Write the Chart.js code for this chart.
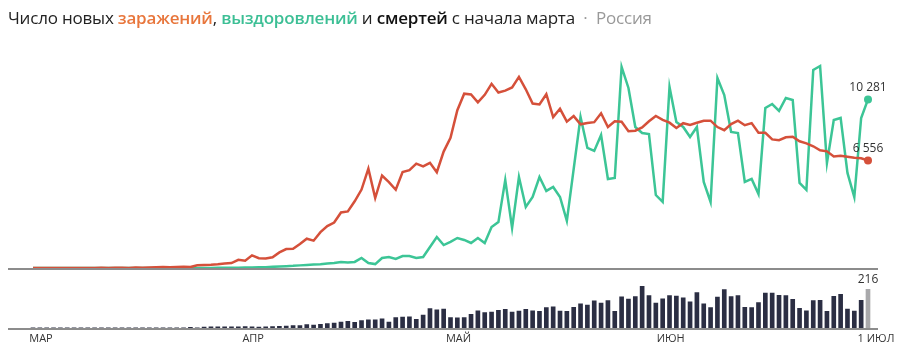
<!DOCTYPE html>
<html>
<head>
<meta charset="utf-8">
<script src="https://cdn.jsdelivr.net/npm/chart.js@4.4.1/dist/chart.umd.min.js"></script>
<style>
  body { margin: 0; background: #fff; }
  #wrap { position: relative; width: 903px; height: 358px; overflow: hidden; font-family: "Open Sans", sans-serif; }
  #title { position: absolute; left: 8px; top: 6px; font-size: 17px; color: #222; white-space: nowrap; letter-spacing: -0.2px; }
  #title .inf { color: #e8763c; font-weight: 600; }
  #title .rec { color: #3cbf95; font-weight: 600; }
  #title .dth { color: #111; font-weight: 600; }
  #title .reg { color: #999; }
  #top { position: absolute; left: 0; top: 0; }
  #bot { position: absolute; left: 0; top: 270px; }
</style>
</head>
<body>
<div id="wrap">
  <canvas id="top" width="903" height="275"></canvas>
  <canvas id="bot" width="903" height="88"></canvas>
  <div id="title">Число новых <span class="inf">заражений</span>, <span class="rec">выздоровлений</span> и <span class="dth">смертей</span> с начала марта <span class="reg">&nbsp;·&nbsp; Россия</span></div>
</div>
<script>
// 1 марта .. 1 июля 2020, по дням
var days = [];
for (var d = new Date(2020, 2, 1); d <= new Date(2020, 6, 1); d.setDate(d.getDate() + 1)) {
    days.push(d.getFullYear() + '-' + (d.getMonth() + 1) + '-' + d.getDate());
}

var tickLabels = { 0: 'МАР', 31: 'АПР', 61: 'МАЙ', 92: 'ИЮН', 122: '1 ИЮЛ' };

// новые заражения
var cases = [
    0, 1, 0, 0, 1, 6, 0, 3, 0, 3, 8, 6, 11, 14, 4, 30, 21, 33, 52, 54,
    53, 61, 71, 57, 163, 182, 196, 228, 270, 302, 500,
    440, 771, 601, 582, 658, 954, 1154, 1175, 1459, 1786,
    1667, 2186, 2558, 2774, 3388, 3448, 4070, 4785, 6060, 4268,
    5642, 5236, 4774, 5849, 5966, 6361, 6198, 6411, 5841, 7099,
    7933, 9623, 10633, 10581, 10102, 10559, 11231, 10699, 10817, 11012,
    11656, 10899, 10028, 9974, 10598, 9200, 9709, 8926, 9263, 8764,
    8849, 8894, 9434, 8599, 8946, 8915, 8338, 8371, 8572, 8952, 9268,
    9035, 8863, 8536, 8831, 8726, 8855, 8984, 8985, 8595, 8404,
    8779, 8987, 8706, 8835, 8246, 8248, 7843, 7790, 7972, 8002,
    7728, 7600, 7425, 7176, 7113, 6800, 6852, 6791, 6719, 6693,
    6556
];

// выздоровления
var recovered = [
    0, 0, 0, 0, 0, 0, 0, 0, 0, 0, 0, 0, 0, 0,
    0, 0, 1, 0, 2, 1, 0,
    3, 2, 4, 3, 5, 6, 8, 10, 12, 16,
    25, 30, 40, 50, 70, 90, 110, 130, 160, 190,
    210, 230, 280, 300, 370, 330, 370, 610, 300, 240,
    610, 670, 550, 730, 730, 610,
    670, 1280, 1890, 1400, 1590, 1830, 1710, 1525, 1830, 1525,
    2500, 2800, 5370, 2440, 5550, 3720, 4330, 5550, 4700, 4940,
    4330, 2870, 6040, 9210, 7320, 7140, 8110, 5430, 5490, 12260,
    10980, 8600, 8235, 8170, 4450, 4030, 11040, 8900, 8600, 7990,
    8600, 5250, 4030, 11590, 10550, 8300, 8235, 5250, 5430, 4510,
    9760, 10000, 9580, 10370, 10250, 5190, 4760, 12080, 12320, 6400,
    9030, 9150, 5800, 4330, 9150, 10281
];

// смерти
var deaths = [
    0, 0, 0, 0, 0, 0, 0, 0, 0, 0, 0, 0, 0, 0, 0, 0, 0, 0, 0, 0, 0, 0, 0,
    3, 0,
    4, 5, 5, 6, 5, 6, 7, 6, 4, 5, 7, 8,
    10, 12, 13, 18, 15, 20, 24, 26, 32, 36, 30,
    40, 44, 45, 50, 32, 57, 60, 62, 47, 72,
    108, 101, 105, 57,
    56, 58, 76, 95, 86, 88, 98, 104, 88, 94, 104,
    95, 93, 113, 118, 94, 92, 115, 135, 128, 151, 139, 153, 93, 173, 161, 175, 232,
    181, 139, 162, 180, 178, 168, 146, 197, 134, 113, 172, 215, 175, 181, 115, 114, 141,
    194, 194, 182, 181, 160, 109, 95, 153, 154, 93, 176, 188, 105, 94, 154, 216
];

var RED = '#d5503a';
var GREEN = '#3cc596';
var BAR = '#2b2e43';
var LAST_BAR = '#a9a9ab';
var last = days.length - 1;

function fmt(n) {
    return String(n).replace(/\B(?=(\d{3})+(?!\d))/g, ' ');
}

function endDot(ctx) {
    return ctx.dataIndex === last ? 4 : 0;
}

// серая базовая линия и подписи последних значений
var baseline = {
    id: 'baseline',
    afterDatasetsDraw: function (chart) {
        var c = chart.ctx;
        var y0 = Math.round(chart.scales.y.getPixelForValue(0)) + 1;
        c.save();
        c.strokeStyle = '#8c8c8c';
        c.lineWidth = 2;
        c.beginPath();
        c.moveTo(8, y0);
        c.lineTo(878, y0);
        c.stroke();
        c.restore();
    }
};

var lastLabels = {
    id: 'lastLabels',
    afterDatasetsDraw: function (chart) {
        var c = chart.ctx;
        c.save();
        c.font = '12px "Open Sans"';
        c.fillStyle = '#333';
        c.textAlign = 'center';
        c.textBaseline = 'bottom';
        chart.data.datasets.forEach(function (ds, i) {
            var el = chart.getDatasetMeta(i).data[last];
            c.fillText(fmt(ds.data[last]), el.x, el.y - 6);
        });
        c.restore();
    }
};

new Chart(document.getElementById('top'), {
    type: 'line',
    data: {
        labels: days,
        datasets: [{
            data: cases,
            borderColor: RED,
            backgroundColor: RED,
            borderWidth: 2.5,
            pointRadius: endDot,
            pointBorderWidth: 0,
            tension: 0
        }, {
            data: recovered,
            borderColor: GREEN,
            backgroundColor: GREEN,
            borderWidth: 2.5,
            pointRadius: endDot,
            pointBorderWidth: 0,
            tension: 0
        }]
    },
    options: {
        responsive: false,
        animation: false,
        layout: { padding: { left: 33, right: 35, top: 45, bottom: 7 } },
        plugins: { legend: { display: false }, tooltip: { enabled: false } },
        scales: {
            x: { display: false },
            y: { display: false, min: 0, max: 13600 }
        }
    },
    plugins: [baseline, lastLabels]
});

new Chart(document.getElementById('bot'), {
    type: 'bar',
    data: {
        labels: days,
        datasets: [{
            data: deaths,
            backgroundColor: function (ctx) { return ctx.dataIndex === last ? LAST_BAR : BAR; },
            barThickness: 4,
            clip: 8
        }]
    },
    options: {
        responsive: false,
        animation: false,
        layout: { padding: { left: 33, right: 35, top: 15, bottom: 9 } },
        plugins: { legend: { display: false }, tooltip: { enabled: false } },
        scales: {
            x: {
                offset: false,
                grid: { display: false, drawTicks: false },
                border: { display: false },
                ticks: {
                    autoSkip: false,
                    maxRotation: 0,
                    labelOffset: 8,
                    padding: 4,
                    color: '#333',
                    font: { size: 11, family: 'Open Sans' },
                    callback: function (v, i) { return tickLabels[i] || ''; }
                }
            },
            y: { display: false, min: 0, max: 240 }
        }
    },
    plugins: [baseline, {
        id: 'deathLabel',
        afterDatasetsDraw: function (chart) {
            var c = chart.ctx;
            var el = chart.getDatasetMeta(0).data[last];
            c.save();
            c.font = '12px "Open Sans"';
            c.fillStyle = '#333';
            c.textAlign = 'center';
            c.textBaseline = 'bottom';
            c.fillText(String(deaths[last]), el.x, el.y - 4);
            c.restore();
        }
    }]
});
</script>
</body>
</html>
